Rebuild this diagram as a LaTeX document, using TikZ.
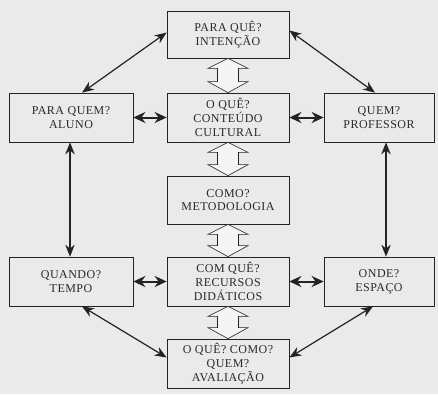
\documentclass[tikz,border=0pt]{standalone}
\usepackage{fontspec}
\setmainfont{Liberation Serif}[LetterSpace=4]
\usetikzlibrary{arrows.meta,calc}
\definecolor{bg}{RGB}{234,234,234}
\definecolor{ink}{RGB}{35,35,35}
\definecolor{txt}{RGB}{40,40,40}
\definecolor{hol}{RGB}{244,244,244}
\tikzset{
  box/.style={draw=ink,line width=0.7pt,fill=bg,rectangle,align=center,inner sep=0pt,
    font=\fontsize{12}{13.8}\selectfont,text=txt},
  bar/.style={ink,line width=1.2pt,{Stealth[length=12pt,width=9.5pt]}-{Stealth[length=12pt,width=9.5pt]}},
  shortbar/.style={ink,line width=2pt,{Stealth[length=12pt,width=11pt]}-{Stealth[length=12pt,width=11pt]}},
  hollow/.style={draw=ink,line width=0.6pt,fill=hol,line join=miter}
}
\newcommand\hollowarr[2]{%
  \draw[hollow] let \p1=(#1.south), \p2=(#2.north) in
   (\x1,\y1) -- (\x1+20pt,\y1-10pt) -- (\x1+10.5pt,\y1-10pt) -- (\x1+10.5pt,\y2+11pt)
   -- (\x1+20pt,\y2+11pt) -- (\x1,\y2) -- (\x1-20pt,\y2+11pt) -- (\x1-10.5pt,\y2+11pt)
   -- (\x1-10.5pt,\y1-10pt) -- (\x1-20pt,\y1-10pt) -- cycle;}
\begin{document}
\begin{tikzpicture}[x=1pt,y=-1pt]
\fill[bg] (0,0) rectangle (438,394);
\useasboundingbox (0,0) rectangle (438,394);
\node[box,minimum width=122pt,minimum height=47pt] (top) at (228,34.5) {PARA QUÊ?\\INTENÇÃO};
\node[box,minimum width=124pt,minimum height=49pt] (aluno) at (71,117.5) {PARA QUEM?\\ALUNO};
\node[box,minimum width=122pt,minimum height=49pt] (cont) at (228,117.5) {O QUÊ?\\CONTEÚDO\\CULTURAL};
\node[box,minimum width=110pt,minimum height=49pt] (prof) at (379,117.5) {QUEM?\\PROFESSOR};
\node[box,minimum width=122pt,minimum height=48pt] (como) at (228,200) {COMO?\\METODOLOGIA};
\node[box,minimum width=124pt,minimum height=49pt] (tempo) at (71,281.5) {QUANDO?\\TEMPO};
\node[box,minimum width=122pt,minimum height=49pt] (rec) at (228,281.5) {COM QUÊ?\\RECURSOS\\DIDÁTICOS};
\node[box,minimum width=110pt,minimum height=49pt] (esp) at (379,281.5) {ONDE?\\ESPAÇO};
\node[box,minimum width=122pt,minimum height=49pt] (aval) at (228,363.5) {O QUÊ? COMO?\\QUEM?\\AVALIAÇÃO};
\hollowarr{top}{cont}
\hollowarr{cont}{como}
\hollowarr{como}{rec}
\hollowarr{rec}{aval}
\draw[shortbar] (aluno.east) -- (cont.west);
\draw[shortbar] (cont.east) -- (prof.west);
\draw[shortbar] (tempo.east) -- (rec.west);
\draw[shortbar] (rec.east) -- (esp.west);
\draw[bar] ([yshift=2pt]top.west) -- ([xshift=11pt]aluno.north);
\draw[bar] ([yshift=4pt]top.east) -- ([xshift=-4pt]prof.north);
\draw[bar] ([xshift=-1pt]aluno.south) -- ([xshift=-1pt]tempo.north);
\draw[bar] ([xshift=7pt]prof.south) -- ([xshift=7pt]esp.north);
\draw[bar] ([xshift=11pt]tempo.south) -- ([yshift=6pt]aval.west);
\draw[bar] ([xshift=-6pt]esp.south) -- ([yshift=6pt]aval.east);
\end{tikzpicture}
\end{document}
